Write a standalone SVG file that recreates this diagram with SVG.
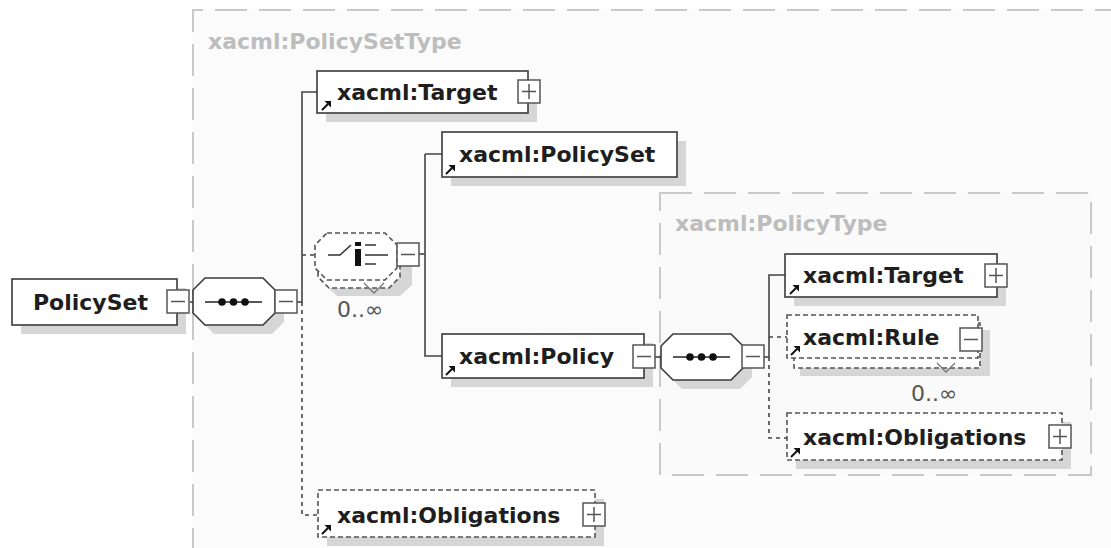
<svg xmlns="http://www.w3.org/2000/svg" xmlns:xlink="http://www.w3.org/1999/xlink" width="1111" height="548" viewBox="0 0 1111 548">
  <style>
    .frame { fill: none; stroke: #c9c9c9; stroke-width: 2; stroke-dasharray: 32 12; }
    .shadow { fill: #d6d6d6; stroke: none; }
    .box { fill: #ffffff; stroke: #3a3a3a; stroke-width: 1.6; }
    .opt { stroke-dasharray: 5 3; stroke: #555; }
    .btn { fill: #ffffff; stroke: #555; stroke-width: 1.5; }
    .btnline { stroke: #555; stroke-width: 1.5; fill: none; }
    .conn { fill: none; stroke: #444; stroke-width: 1.6; }
    .dotted { stroke-dasharray: 4 4; }
    .lbl { font-family: "DejaVu Sans", "Liberation Sans", sans-serif; font-weight: bold; font-size: 22px; fill: #1e1e1e; }
    .type { fill: #bdbdbd; }
    .card { font-family: "DejaVu Sans", "Liberation Sans", sans-serif; font-size: 22px; fill: #555; }
  </style>
  <defs>
    <!-- reference arrow drawn in the lower-left corner of element boxes -->
    <g id="ref">
      <path d="M0,0 L6,-6" stroke="#111" stroke-width="2" fill="none"/>
      <path d="M9,-9 L9,-2.5 L2.5,-9 Z" fill="#111"/>
    </g>
    <!-- expand / collapse buttons -->
    <g id="minus">
      <rect class="btn" x="0" y="0" width="22" height="23"/>
      <path class="btnline" d="M4,11.5 H18"/>
    </g>
    <g id="plus">
      <rect class="btn" x="0" y="0" width="22" height="23"/>
      <path class="btnline" d="M4,11.5 H18 M11,4 V19"/>
    </g>
    <!-- sequence compositor glyph -->
    <g id="seqmark">
      <path d="M0,0 H57" stroke="#222" stroke-width="1.6"/>
      <circle cx="17" cy="0" r="3.8" fill="#111"/>
      <circle cx="28.5" cy="0" r="3.8" fill="#111"/>
      <circle cx="40" cy="0" r="3.8" fill="#111"/>
    </g>
  </defs>

  <rect x="0" y="0" width="1111" height="548" fill="#ffffff"/>

  <!-- complex type frames -->
  <g id="policySetType">
    <rect x="193" y="10" width="940" height="560" fill="#fbfbfb" stroke="none"/>
    <path class="frame" d="M193,560 V10 H1120"/>
    <text class="lbl type" x="208" y="49">xacml:PolicySetType</text>
  </g>
  <g id="policyType">
    <rect class="frame" x="660" y="193" width="431" height="282" style="fill:#fafafa"/>
    <text class="lbl type" x="675" y="231">xacml:PolicyType</text>
  </g>

  <!-- connectors -->
  <g id="connectors">
    <path class="conn" d="M190,302 H193"/>
    <path class="conn" d="M297,302 H302"/>
    <path class="conn" d="M302,302 V92 H317"/>
    <path class="conn dotted" d="M302,302 V515 H318"/>
    <path class="conn dotted" d="M302,255 H315"/>
    <path class="conn" d="M419,254 H425"/>
    <path class="conn" d="M425,154 H442 M425,154 V356 H442"/>
    <path class="conn" d="M655,357 H661"/>
    <path class="conn" d="M763,357 H769"/>
    <path class="conn" d="M769,357 V275 H785"/>
    <path class="conn dotted" d="M769,357 V438 H787"/>
    <path class="conn dotted" d="M769,337 H787"/>
  </g>

  <!-- root element -->
  <g id="node-policyset-root">
    <rect class="shadow" x="21" y="288" width="165" height="46"/>
    <rect class="box" x="12" y="279" width="165" height="46"/>
    <text class="lbl" x="33" y="310">PolicySet</text>
    <use xlink:href="#minus" x="167" y="290"/>
  </g>

  <!-- sequence of PolicySetType -->
  <g id="node-sequence-1">
    <path class="shadow" d="M214,287 H272 L284,299 V322 L272,334 H214 L202,322 V299 Z"/>
    <path class="box" d="M205,278 H263 L275,290 V313 L263,325 H205 L193,313 V290 Z"/>
    <use xlink:href="#seqmark" x="205" y="302"/>
    <use xlink:href="#minus" x="275" y="290"/>
  </g>

  <g id="node-target-1">
    <rect class="shadow" x="326" y="80" width="211" height="42"/>
    <rect class="box" x="317" y="71" width="211" height="42"/>
    <text class="lbl" x="337" y="100">xacml:Target</text>
    <use xlink:href="#ref" x="322" y="110"/>
    <use xlink:href="#plus" x="518" y="80"/>
  </g>

  <!-- optional, repeating choice -->
  <g id="node-choice">
    <path class="shadow" d="M337,247 H402 L412,257 V285 L400,296 H337 L325,285 V257 Z"/>
    <path class="box opt" d="M329,241 H389 L400,252 V277 L389,288 H329 L318,277 V252 Z"/>
    <path class="box opt" d="M327,233 H385 L397,245 V268 L385,280 H327 L315,268 V245 Z"/>
    <path d="M364,283 L374,293 L384,283" fill="none" stroke="#777" stroke-width="1.3"/>
    <path d="M328,255 H340 L351,245" fill="none" stroke="#333" stroke-width="1.6"/>
    <rect x="355" y="242" width="6" height="4" fill="#111"/>
    <rect x="355" y="249" width="6" height="17" fill="#111"/>
    <path d="M365,245 H376 M365,255 H388 M365,264 H376" stroke="#333" stroke-width="1.6"/>
    <use xlink:href="#minus" x="397" y="243"/>
    <text class="card" x="337" y="317">0..∞</text>
  </g>

  <g id="node-policyset-ref">
    <rect class="shadow" x="451" y="141" width="235" height="45"/>
    <rect class="box" x="442" y="132" width="235" height="45"/>
    <text class="lbl" x="459" y="162">xacml:PolicySet</text>
    <use xlink:href="#ref" x="446" y="174"/>
  </g>

  <g id="node-policy">
    <rect class="shadow" x="451" y="343" width="202" height="44"/>
    <rect class="box" x="442" y="334" width="202" height="44"/>
    <text class="lbl" x="459" y="364">xacml:Policy</text>
    <use xlink:href="#ref" x="446" y="375"/>
    <use xlink:href="#minus" x="633" y="345"/>
  </g>

  <!-- sequence of PolicyType -->
  <g id="node-sequence-2">
    <path class="shadow" d="M682,343 H740 L752,355 V377 L740,389 H682 L670,377 V355 Z"/>
    <path class="box" d="M673,334 H731 L743,346 V368 L731,380 H673 L661,368 V346 Z"/>
    <use xlink:href="#seqmark" x="673" y="357"/>
    <use xlink:href="#minus" x="742" y="345"/>
  </g>

  <g id="node-target-2">
    <rect class="shadow" x="794" y="263" width="212" height="43"/>
    <rect class="box" x="785" y="254" width="212" height="43"/>
    <text class="lbl" x="803" y="283">xacml:Target</text>
    <use xlink:href="#ref" x="790" y="294"/>
    <use xlink:href="#plus" x="985" y="264"/>
  </g>

  <g id="node-rule">
    <rect class="shadow" x="800" y="330" width="190" height="46"/>
    <rect class="box opt" x="794" y="323" width="186" height="45"/>
    <rect class="box opt" x="787" y="315" width="191" height="43"/>
    <path d="M937,363 L946,372 L955,363" fill="none" stroke="#777" stroke-width="1.3"/>
    <text class="lbl" x="803" y="345">xacml:Rule</text>
    <use xlink:href="#ref" x="791" y="355"/>
    <use xlink:href="#minus" x="960" y="328"/>
    <text class="card" x="911" y="401">0..∞</text>
  </g>

  <g id="node-obligations-2">
    <rect class="shadow" x="796" y="422" width="275" height="47"/>
    <rect class="box opt" x="787" y="413" width="275" height="47"/>
    <text class="lbl" x="803" y="445">xacml:Obligations</text>
    <use xlink:href="#ref" x="791" y="457"/>
    <use xlink:href="#plus" x="1049" y="425"/>
  </g>

  <g id="node-obligations-1">
    <rect class="shadow" x="327" y="499" width="277" height="47"/>
    <rect class="box opt" x="318" y="490" width="277" height="47"/>
    <text class="lbl" x="337" y="523">xacml:Obligations</text>
    <use xlink:href="#ref" x="322" y="534"/>
    <use xlink:href="#plus" x="583" y="503"/>
  </g>
</svg>
